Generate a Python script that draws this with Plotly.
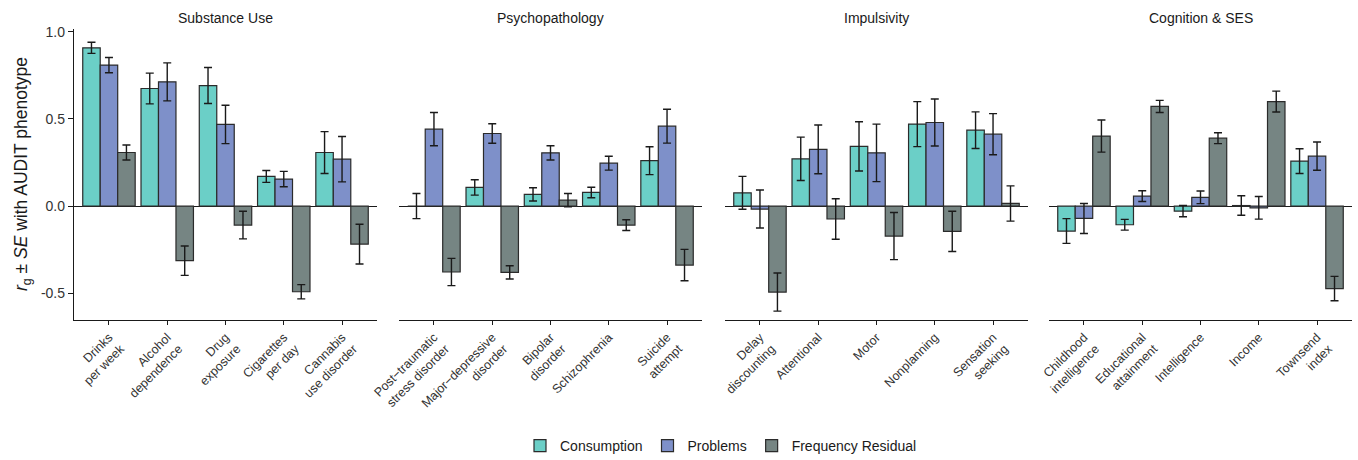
import plotly.graph_objects as go

# ---------------- data ----------------
panel_titles = ["Substance Use", "Psychopathology", "Impulsivity", "Cognition & SES"]

cats_substance = ["Drinks<br>per week", "Alcohol<br>dependence", "Drug<br>exposure",
                  "Cigarettes<br>per day", "Cannabis<br>use disorder"]
cats_psycho = ["Post−traumatic<br>stress disorder", "Major−depressive<br>disorder",
               "Bipolar<br>disorder", "Schizophrenia", "Suicide<br>attempt"]
cats_impuls = ["Delay<br>discounting", "Attentional", "Motor", "Nonplanning",
               "Sensation<br>seeking"]
cats_cog = ["Childhood<br>intelligence", "Educational<br>attainment", "Intelligence",
            "Income", "Townsend<br>index"]

series_names = ["Consumption", "Problems", "Frequency Residual"]

# values (rg) per panel
cons_substance = [0.907, 0.674, 0.691, 0.170, 0.307]
prob_substance = [0.808, 0.712, 0.468, 0.155, 0.269]
freq_substance = [0.307, -0.313, -0.109, -0.491, -0.218]
cons_substance_se = [0.032, 0.088, 0.103, 0.034, 0.120]
prob_substance_se = [0.044, 0.109, 0.110, 0.044, 0.130]
freq_substance_se = [0.043, 0.084, 0.079, 0.041, 0.114]

cons_psycho = [0.000, 0.107, 0.067, 0.078, 0.260]
prob_psycho = [0.441, 0.416, 0.305, 0.246, 0.458]
freq_psycho = [-0.378, -0.380, 0.034, -0.109, -0.338]
cons_psycho_se = [0.072, 0.044, 0.038, 0.030, 0.080]
prob_psycho_se = [0.095, 0.056, 0.041, 0.040, 0.097]
freq_psycho_se = [0.078, 0.038, 0.038, 0.031, 0.090]

cons_impuls = [0.076, 0.271, 0.342, 0.470, 0.435]
prob_impuls = [-0.017, 0.325, 0.305, 0.479, 0.412]
freq_impuls = [-0.493, -0.074, -0.172, -0.145, 0.015]
cons_impuls_se = [0.094, 0.124, 0.141, 0.129, 0.105]
prob_impuls_se = [0.109, 0.140, 0.165, 0.135, 0.118]
freq_impuls_se = [0.109, 0.116, 0.135, 0.115, 0.101]

cons_cog = [-0.143, -0.107, -0.029, 0.003, 0.258]
prob_cog = [-0.071, 0.057, 0.050, -0.010, 0.286]
freq_cog = [0.401, 0.571, 0.389, 0.599, -0.473]
cons_cog_se = [0.071, 0.031, 0.032, 0.056, 0.071]
prob_cog_se = [0.086, 0.031, 0.036, 0.065, 0.081]
freq_cog_se = [0.092, 0.035, 0.031, 0.060, 0.070]

ytick_vals = [-0.5, 0.0, 0.5, 1.0]
ytick_text = ["-0.5", "0.0", "0.5", "1.0"]

# ---------------- assembly ----------------
panels = [
    (cats_substance, [cons_substance, prob_substance, freq_substance],
     [cons_substance_se, prob_substance_se, freq_substance_se]),
    (cats_psycho, [cons_psycho, prob_psycho, freq_psycho],
     [cons_psycho_se, prob_psycho_se, freq_psycho_se]),
    (cats_impuls, [cons_impuls, prob_impuls, freq_impuls],
     [cons_impuls_se, prob_impuls_se, freq_impuls_se]),
    (cats_cog, [cons_cog, prob_cog, freq_cog],
     [cons_cog_se, prob_cog_se, freq_cog_se]),
]

colors = ["#6BCFC7", "#7E90C9", "#768583"]
FONT = "Liberation Sans, Arial, Helvetica, sans-serif"
W, H = 1358, 460

panel_px = [(74, 377), (399, 702), (725, 1028), (1049, 1352)]
y_top_px, y_bot_px = 29, 320
ydom = [1 - y_bot_px / H, 1 - y_top_px / H]

fig = go.Figure()
layout = dict(
    width=W, height=H,
    margin=dict(l=0, r=0, t=0, b=0, pad=0, autoexpand=False),
    paper_bgcolor="white", plot_bgcolor="white",
    barmode="group", bargap=0.1, bargroupgap=0.0,
    font=dict(family=FONT, color="#1a1a1a"),
    showlegend=True,
    legend=dict(orientation="h", x=721 / W, xanchor="center", y=1 - 446 / H,
                yanchor="middle", font=dict(size=14, family=FONT, color="#1a1a1a"),
                itemwidth=30, tracegroupgap=0, bgcolor="rgba(0,0,0,0)"),
)

annotations = []
for i, (cats, vals, ses) in enumerate(panels):
    n = "" if i == 0 else str(i + 1)
    xa, ya = "x" + n, "y" + n
    for s in range(3):
        fig.add_trace(go.Bar(
            x=cats, y=vals[s], name=series_names[s],
            xaxis=xa, yaxis=ya,
            marker=dict(color=colors[s], line=dict(color="#2b2b2b", width=1.2)),
            error_y=dict(type="data", array=ses[s], visible=True,
                         color="#1a1a1a", thickness=1.4, width=4),
            legendgroup=series_names[s], showlegend=(i == 0),
        ))
    x0, x1 = panel_px[i]
    layout["xaxis" + n] = dict(
        domain=[x0 / W, x1 / W], anchor=ya, type="category", automargin=False,
        range=[-0.6, 4.6], showline=True, linecolor="#1a1a1a", linewidth=1.3,
        ticks="outside", ticklen=4, tickcolor="#1a1a1a", tickwidth=1.2,
        tickangle=-45, tickfont=dict(size=12.5, family=FONT, color="#333333"),
        showgrid=False, zeroline=False, fixedrange=True,
    )
    yax = dict(
        domain=ydom, anchor=xa, range=[-0.653, 1.015], automargin=False,
        showgrid=False, zeroline=True, zerolinecolor="#1a1a1a", zerolinewidth=1.3,
        fixedrange=True,
    )
    if i == 0:
        yax.update(showline=True, linecolor="#1a1a1a", linewidth=1.3,
                   ticks="outside", ticklen=5, tickcolor="#1a1a1a", tickwidth=1.2,
                   tickvals=ytick_vals, ticktext=ytick_text,
                   tickfont=dict(size=14, family=FONT, color="#333333"))
    else:
        yax.update(showline=False, showticklabels=False, ticks="", matches="y")
    layout["yaxis" + n] = yax
    annotations.append(dict(
        text=panel_titles[i], x=(x0 + x1) / 2 / W, y=1 - 18 / H,
        xref="paper", yref="paper", showarrow=False,
        xanchor="center", yanchor="middle",
        font=dict(size=14, family=FONT, color="#1a1a1a"),
    ))

annotations.append(dict(
    text="<i>r</i><sub>g</sub> ± <i>SE</i> with AUDIT phenotype",
    x=22 / W, y=1 - 174 / H, xref="paper", yref="paper", showarrow=False,
    textangle=-90, xanchor="center", yanchor="middle",
    font=dict(size=17.5, family=FONT, color="#1a1a1a"),
))
layout["annotations"] = annotations
fig.update_layout(**layout)

fig.write_html("out.html")
